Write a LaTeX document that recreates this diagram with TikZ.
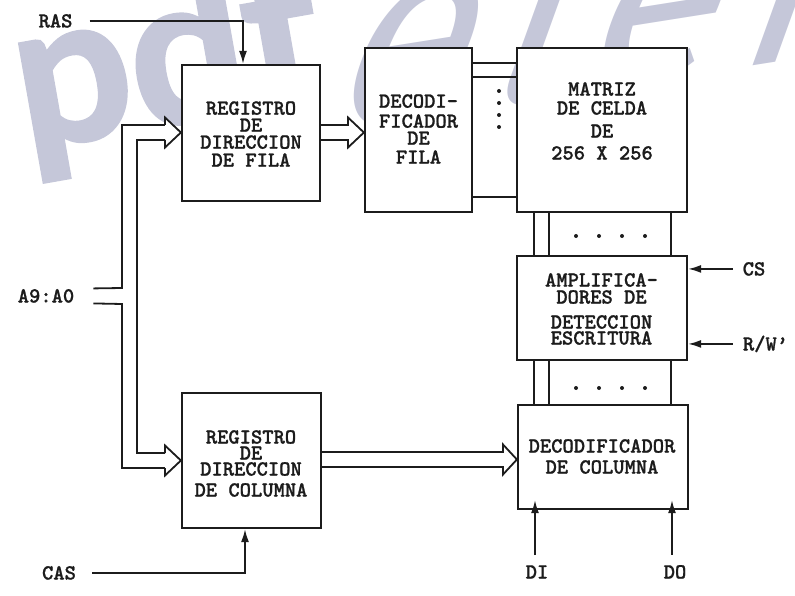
\documentclass[tikz,border=0pt]{standalone}
\usepackage{fontspec}
\newfontfamily\wmbf{Lato}[FakeBold=2]
\newfontfamily\wmlt{Fira Sans}[FakeSlant=0.55,LetterSpace=9]
\newfontfamily\dgmono{lmmonolt10-bold.otf}[FakeBold=1]
\usetikzlibrary{arrows.meta,calc}
\definecolor{wm}{RGB}{197,199,217}
\definecolor{ink}{RGB}{28,28,28}
\newcommand\dgfont{\fontsize{21.5}{17}\selectfont\dgmono}
\tikzset{
  box/.style={draw=ink, line width=2.2pt, fill=white, inner sep=0pt},
  txt/.style={text=ink, font=\dgfont, align=center, inner sep=0pt},
  lbl/.style={text=ink, font=\dgfont, inner sep=0pt, anchor=base},
  wire/.style={draw=ink, line width=1.8pt},
  sig/.style={wire, -{Latex[length=13pt,width=8pt]}},
  bus/.style={wire, fill=white, line join=miter},
  dot/.style={fill=ink}
}
\begin{document}
\begin{tikzpicture}[x=1pt,y=-1pt]
\useasboundingbox (0,0) rectangle (795,596);

% watermark
\node[text=wm, inner sep=0pt, anchor=base west, rotate=10,
      font=\wmbf\bfseries\fontsize{205}{205}\selectfont] (wmA) at (26,150) {pdf};
\node[text=wm, inner sep=0pt, anchor=base west, rotate=9,
      font=\wmlt\fontsize{250}{250}\selectfont] (wmB) at (322,134) {element};

% boxes
\node[box, minimum width=138pt, minimum height=136pt] (regF) at (251,133) {};
\node[box, minimum width=107pt, minimum height=164pt] (decF) at (418.5,130) {};
\node[box, minimum width=170pt, minimum height=164pt] (mat) at (602,130) {};
\node[box, minimum width=170pt, minimum height=104pt] (amp) at (602,308) {};
\node[box, minimum width=170pt, minimum height=104pt] (decC) at (603,457) {};
\node[box, minimum width=139pt, minimum height=135pt] (regC) at (251.5,460.5) {};

% box texts
\node[txt] (regFt) at (251,134) {REGISTRO\\DE\\DIRECCION\\[1pt]DE FILA};
\node[txt] (decFt) at (418.5,129) {DECODI-\\[3pt]FICADOR\\DE\\[2pt]FILA};
\node[txt] (matt) at (602,121) {MATRIZ\\[2pt]DE CELDA\\[6pt]DE\\[5pt]256 X 256};
\node[txt] (ampt) at (601.5,309) {AMPLIFICA-\\DORES DE\\[8pt]DETECCION\\[-1pt]ESCRITURA};
\node[txt] (decCt) at (602,456.5) {DECODIFICADOR\\[4pt]DE COLUMNA};
\node[txt] (regCt) at (251,463.5) {REGISTRO\\[-1pt]DE\\[-1pt]DIRECCION\\[4pt]DE COLUMNA};

% labels
\node[lbl] (ras) at (55.5,27.5) {RAS};
\node[lbl] (cas) at (59,579.5) {CAS};
\node[lbl] (addr) at (46,302.5) {A9:A0};
\node[lbl] (cs) at (754,275.5) {CS};
\node[lbl] (rw) at (765.5,350.5) {R/W’};
\node[lbl] (di) at (537,578.5) {DI};
\node[lbl] (do) at (675,578.5) {DO};

% control signals
\draw[sig] ($(ras.east)+(17,0)$) -| ([xshift=-8pt]regF.north);
\draw[sig] ($(cas.east)+(16,0)$) -| ([xshift=-6.5pt]regC.south);
\draw[sig] ($(cs.west)+(-10,0)$) -- (cs.west -| amp.east);
\draw[sig] ($(rw.west)+(-10,0)$) -- (rw.west -| amp.east);
\draw[sig] ([xshift=-2pt,yshift=10pt]di.north) -- ([xshift=-2pt,yshift=10pt]di.north |- decC.south);
\draw[sig] ([xshift=-3pt,yshift=10pt]do.north) -- ([xshift=-3pt,yshift=10pt]do.north |- decC.south);

% address bus
\draw[wire] ($(addr.east)+(19,-7.5)$) -- (122,288) -- (122,125) -- (165,125);
\draw[wire] ($(addr.east)+(19,7.5)$) -- (122,304) -- (122,468) -- (165,468);
\draw[wire] (165,140) -- (137,140) -- (137,453) -- (165,453);
\draw[bus] (165,125) -- (165,117.5) -- (regF.west |- 0,132.5) -- (165,147.5) -- (165,140);
\draw[bus] (165,453) -- (165,445.5) -- (regC.west |- 0,460.5) -- (165,475.5) -- (165,468);

% row bus
\draw[bus] (regF.east |- 0,125) -- (348,125) -- (348,117.5) -- (decF.west |- 0,132.5)
  -- (348,147.5) -- (348,140) -- (regF.east |- 0,140);
% column bus
\draw[bus] (regC.east |- 0,452) -- (503,452) -- (503,444.5) -- (decC.west |- 0,459.5)
  -- (503,474.5) -- (503,467) -- (regC.east |- 0,467);

% row lines decoder -> matrix
\draw[wire] (decF.east |- 0,63) -- (mat.west |- 0,63);
\draw[wire] (decF.east |- 0,77) -- (mat.west |- 0,77);
\draw[wire] (decF.east |- 0,197) -- (mat.west |- 0,197);
\foreach \y in {91,103,115,127} \fill[dot] (499,\y) circle (2pt);

% column lines matrix -> amplifiers -> column decoder
\foreach \x in {534,549,671} {
  \draw[wire] (mat.south -| \x,0) -- (amp.north -| \x,0);
  \draw[wire] (amp.south -| \x,0) -- (decC.north -| \x,0);
}
\foreach \x in {576,599,622,645} {
  \fill[dot] (\x,236) circle (2pt);
  \fill[dot] (\x,388) circle (2pt);
}
\end{tikzpicture}
\end{document}
